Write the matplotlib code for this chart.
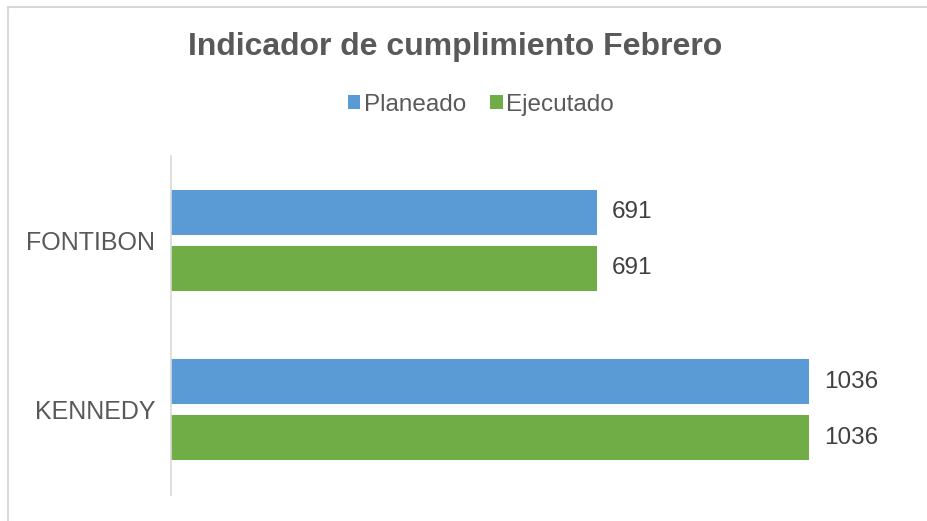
import matplotlib.pyplot as plt
from matplotlib.patches import Rectangle

categorias = ['FONTIBON', 'KENNEDY']
planeado = [691, 1036]
ejecutado = [691, 1036]

plt.rcParams['font.family'] = ['Liberation Sans', 'DejaVu Sans']

fig = plt.figure(figsize=(9.27, 5.21), dpi=100)
# chart border (only left/top visible in the crop)
fig.patches.append(Rectangle((8 / 927, -0.1), 1.2, 1 - 7 / 521 + 0.1, transform=fig.transFigure,
                             fill=False, edgecolor='#d9d9d9', linewidth=1.5))

ax = fig.add_axes([171 / 927, 26.5 / 521, 739 / 927, 339 / 521])

y = list(range(len(categorias)))
h = 0.266
off = 0.166
b1 = ax.barh([i - off for i in y], planeado, height=h, color='#5b9bd5', label='Planeado')
b2 = ax.barh([i + off for i in y], ejecutado, height=h, color='#70ad47', label='Ejecutado')

for bars in (b1, b2):
    for r in bars:
        ax.text(r.get_width() + 25, r.get_y() + r.get_height() / 2, str(int(r.get_width())),
                va='center', ha='left', fontsize=17.5, color='#404040')

ax.set_xlim(0, 1200)
ax.set_ylim(1.5, -0.5)
ax.set_yticks(y)
ax.set_yticklabels(categorias, fontsize=18, color='#595959')
ax.tick_params(axis='y', length=0, pad=11.5)
ax.set_xticks([])
for s in ('top', 'right', 'bottom'):
    ax.spines[s].set_visible(False)
ax.spines['left'].set_color('#d9d9d9')
ax.spines['left'].set_linewidth(1.2)

fig.text(455 / 927, 1 - 47 / 521, 'Indicador de cumplimiento Febrero', ha='center', va='center',
         fontsize=23, fontweight='bold', color='#595959')
fig.legend(handles=[b1, b2], loc='center', bbox_to_anchor=(481 / 927, 1 - 105 / 521), ncol=2,
           frameon=False, fontsize=17.5, handlelength=0.5, handleheight=0.5, handletextpad=0.15,
           columnspacing=1.0, labelcolor='#595959')

fig.savefig('out.png', dpi=100)
